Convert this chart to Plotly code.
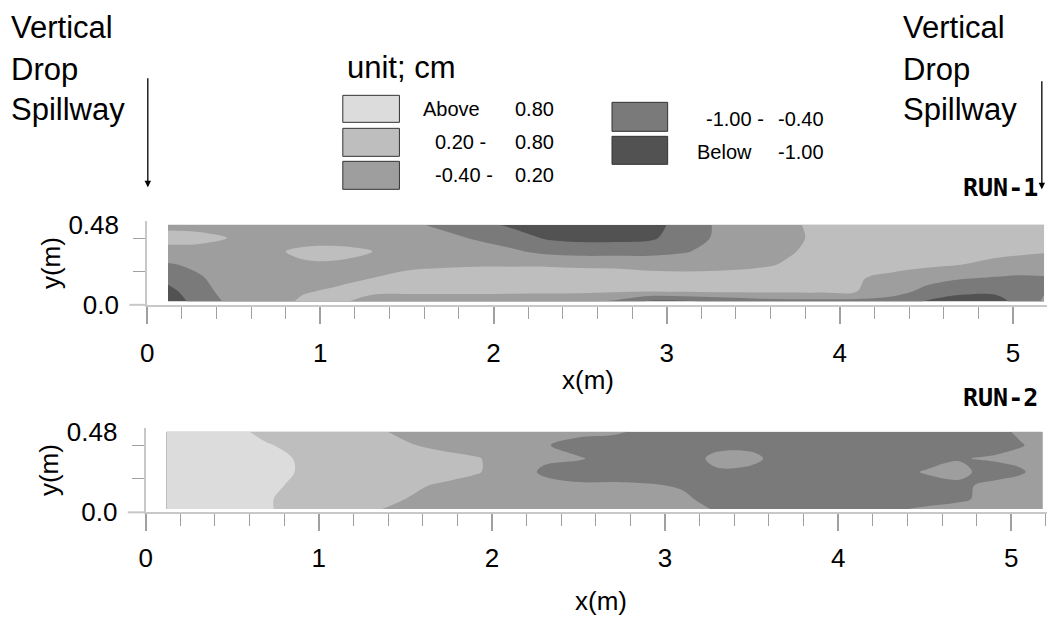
import plotly.graph_objects as go

W, H = 1055, 619
OFF = 8          # page body margin in the browser
SY, AY = 0.958, 12.0   # observed vertical mapping of the photographed page


# ---------------- data (cm) ----------------
x_run1 = [0.12, 0.3, 0.5, 0.7, 0.9, 1.1, 1.3, 1.5, 1.7, 1.9, 2.1, 2.3, 2.5, 2.7,
          2.9, 3.1, 3.3, 3.5, 3.7, 3.9, 4.1, 4.3, 4.5, 4.7, 4.9, 5.05, 5.18]
y_run1 = [0.02, 0.08, 0.16, 0.24, 0.32, 0.40, 0.48]
z_run1 = [
    [-1.3, -0.8, -0.2, -0.1, 0.3, 0.3, 0.0, -0.1, -0.1, -0.1, -0.15, -0.2, -0.3, -0.5,
     -1.1, -1.1, -0.9, -0.7, -0.6, -0.6, -0.6, -0.7, -1.05, -1.1, -1.1, -0.9, -0.3],
    [-1.2, -0.6, -0.15, -0.05, 0.15, 0.3, 0.3, 0.3, 0.3, 0.3, 0.3, 0.3, 0.3, 0.25,
     0.2, 0.25, 0.3, 0.3, 0.3, 0.3, 0.2, -0.1, -0.6, -0.95, -0.95, -0.8, -0.45],
    [-0.8, -0.45, -0.15, -0.1, -0.05, 0.05, 0.2, 0.4, 0.5, 0.5, 0.5, 0.5, 0.5, 0.45,
     0.45, 0.45, 0.45, 0.45, 0.45, 0.4, 0.25, 0.05, -0.15, -0.35, -0.45, -0.5, -0.45],
    [-0.45, -0.3, -0.1, -0.05, 0.1, 0.1, 0.0, 0.05, 0.1, 0.15, 0.15, 0.15, 0.1, 0.1,
     0.0, -0.05, 0.0, 0.1, 0.25, 0.4, 0.45, 0.4, 0.3, 0.2, 0.05, -0.05, -0.1],
    [-0.05, -0.05, -0.1, 0.05, 0.35, 0.4, 0.2, -0.05, -0.1, -0.15, -0.3, -0.55, -0.65, -0.65,
     -0.6, -0.45, -0.2, -0.05, 0.15, 0.35, 0.45, 0.5, 0.5, 0.45, 0.35, 0.3, 0.25],
    [0.45, 0.4, 0.15, -0.05, -0.1, -0.1, -0.1, -0.15, -0.25, -0.45, -0.7, -1.05, -1.15, -1.15,
     -1.1, -0.7, -0.3, -0.1, 0.1, 0.3, 0.45, 0.5, 0.5, 0.5, 0.5, 0.5, 0.5],
    [0.0, -0.05, -0.1, -0.1, -0.1, -0.15, -0.2, -0.3, -0.5, -0.8, -1.1, -1.25, -1.3, -1.3,
     -1.2, -0.8, -0.3, -0.1, 0.1, 0.35, 0.5, 0.5, 0.55, 0.55, 0.55, 0.5, 0.5],
]

x_run2 = [0.12, 0.3, 0.5, 0.7, 0.9, 1.1, 1.3, 1.5, 1.7, 1.9, 2.1, 2.3, 2.5, 2.7,
          2.9, 3.1, 3.3, 3.5, 3.7, 3.9, 4.1, 4.3, 4.5, 4.7, 4.9, 5.05, 5.18]
y_run2 = [0.02, 0.08, 0.16, 0.24, 0.32, 0.40, 0.48]
z_run2 = [
    [1.1, 1.1, 1.0, 0.85, 0.6, 0.4, 0.25, 0.1, -0.1, -0.1, -0.1, -0.1, -0.1, -0.15,
     -0.2, -0.2, -0.45, -0.65, -0.7, -0.65, -0.6, -0.5, -0.3, -0.2, -0.1, -0.1, -0.1],
    [1.1, 1.1, 1.0, 0.85, 0.6, 0.45, 0.3, 0.2, 0.0, -0.1, -0.1, -0.1, -0.1, -0.15,
     -0.2, -0.3, -0.6, -0.7, -0.7, -0.7, -0.7, -0.7, -0.7, -0.5, -0.2, -0.1, -0.1],
    [1.1, 1.1, 1.05, 0.9, 0.7, 0.5, 0.4, 0.3, 0.15, 0.0, -0.1, -0.2, -0.3, -0.3,
     -0.35, -0.45, -0.7, -0.7, -0.7, -0.7, -0.7, -0.7, -0.7, -0.55, -0.2, -0.1, -0.1],
    [1.1, 1.1, 1.1, 1.0, 0.75, 0.6, 0.55, 0.5, 0.4, 0.25, 0.0, -0.5, -0.7, -0.7,
     -0.7, -0.7, -0.45, -0.5, -0.7, -0.7, -0.7, -0.7, -0.35, -0.2, -0.75, -0.5, -0.1],
    [1.1, 1.1, 1.1, 0.95, 0.75, 0.6, 0.5, 0.45, 0.35, 0.25, 0.0, -0.3, -0.35, -0.6,
     -0.7, -0.6, -0.3, -0.3, -0.6, -0.7, -0.7, -0.7, -0.7, -0.45, -0.3, -0.2, -0.1],
    [1.1, 1.1, 1.05, 0.85, 0.6, 0.5, 0.4, 0.25, 0.1, -0.05, -0.2, -0.35, -0.6, -0.7,
     -0.7, -0.7, -0.5, -0.5, -0.7, -0.7, -0.7, -0.45, -0.45, -0.7, -0.7, -0.45, -0.2],
    [1.1, 1.1, 1.0, 0.6, 0.5, 0.45, 0.3, 0.1, -0.1, -0.1, -0.15, -0.2, -0.25, -0.3,
     -0.55, -0.7, -0.7, -0.7, -0.7, -0.7, -0.7, -0.7, -0.6, -0.7, -0.6, -0.3, -0.2],
]

class_labels_left = [("Above", "0.80"), ("0.20 -", "0.80"), ("-0.40 -", "0.20")]
class_labels_right = [("-1.00 -", "-0.40"), ("Below", "-1.00")]
x_ticks = [0, 1, 2, 3, 4, 5]
y_tick_vals = [0, 0.48]
y_tick_text = ["0.0", "0.48"]

# ---------------- styles ----------------
C1, C2, C3, C4, C5 = "#dcdcdc", "#bebebe", "#9e9e9e", "#7a7a7a", "#525252"
SCALE = [[0, C5], [0.25, C4], [0.5, C3], [0.75, C2], [1.0, C1]]
FONT = "Liberation Sans, Arial, sans-serif"
AXCOL = "#c8c8c8"
TICKCOL = "#a0a0a0"


def px(p):
    return (p - OFF) / W


def page_y(r):
    """target position in the photo -> position in the page"""
    return (r - AY) / SY


def py(r):
    return 1 - (page_y(r) - OFF) / H


XPX = 174.3  # pixels per metre
panels = [
    dict(x0=141.1, y0=305.5, ytop=222.0),
    dict(x0=139.5, y0=513.0, ytop=429.0),
]

fig = go.Figure()
for i, (xs, ys, zs) in enumerate([(x_run1, y_run1, z_run1), (x_run2, y_run2, z_run2)]):
    sfx = "" if i == 0 else "2"
    fig.add_trace(go.Contour(
        x=xs, y=ys, z=zs, autocontour=False,
        contours=dict(start=-1.0, end=0.8, size=0.6, coloring="fill", showlines=False),
        colorscale=SCALE, showscale=False, line=dict(width=0, smoothing=1.0),
        xaxis="x" + sfx, yaxis="y" + sfx, hoverinfo="skip",
    ))

layout = dict(
    width=W, height=H, margin=dict(l=0, r=0, t=0, b=0),
    paper_bgcolor="white", plot_bgcolor="white", showlegend=False,
    font=dict(family=FONT, color="black"),
)
shapes = []
annotations = []


def text_at(txt, x, y, size, xanchor="left", yanchor="middle", family=FONT, angle=0):
    annotations.append(dict(text=txt, xref="paper", yref="paper", x=px(x), y=py(y),
                            xanchor=xanchor, yanchor=yanchor, showarrow=False,
                            align=xanchor if xanchor != "center" else "center",
                            textangle=angle, borderpad=0,
                            font=dict(size=size, family=family, color="black")))


for i, p in enumerate(panels):
    sfx = "" if i == 0 else "2"
    xr = 5.22
    layout["xaxis" + sfx] = dict(
        domain=[px(p["x0"]), px(p["x0"] + xr * XPX)], range=[0, xr],
        anchor="y" + sfx, showline=True, linecolor=AXCOL, linewidth=2,
        showgrid=False, zeroline=False, tickmode="array", tickvals=x_ticks,
        ticktext=[str(t) for t in x_ticks],
        ticks="outside", ticklen=17, tickwidth=1.5, tickcolor=TICKCOL,
        tickfont=dict(size=26, family=FONT, color="black"),
        ticklabelstandoff=7 if i == 0 else 4,
        minor=dict(tickmode="linear", tick0=0, dtick=0.2, ticks="outside",
                   ticklen=12, tickwidth=1.2, tickcolor=TICKCOL),
        fixedrange=True,
    )
    layout["yaxis" + sfx] = dict(
        domain=[py(p["y0"]), py(p["ytop"])], range=[0, 0.5],
        anchor="x" + sfx, showline=True, linecolor=AXCOL, linewidth=2,
        showgrid=False, zeroline=False, tickmode="array", tickvals=y_tick_vals,
        ticktext=y_tick_text, ticks="outside", ticklen=12,
        tickcolor="rgba(0,0,0,0)", ticklabelstandoff=9,
        tickfont=dict(size=26, family=FONT, color="black"),
        minor=dict(tickmode="array", tickvals=[0.2, 0.4], ticks="outside",
                   ticklen=12, tickwidth=1.2, tickcolor=TICKCOL),
        fixedrange=True,
    )
    # extension of x axis line left of the y axis (tick at y = 0)
    shapes.append(dict(type="line", xref="paper", yref="paper",
                       x0=px(p["x0"] - 18), x1=px(p["x0"]), y0=py(p["y0"]), y1=py(p["y0"]),
                       line=dict(color=AXCOL, width=2)))

# axis titles
for (cx, cy) in [(585, 381), (598, 602)]:
    text_at("x(m)", cx, cy, 26, xanchor="center")
for (cx, cy) in [(45, 264), (43, 471)]:
    text_at("y(m)", cx, cy, 26, xanchor="center", angle=-90)

# RUN labels
for txt, cy in [("RUN-1", 188), ("RUN-2", 398)]:
    text_at("<b>%s</b>" % txt, 1039, cy, 25, xanchor="right",
            family="DejaVu Sans Mono, monospace")

# Vertical Drop Spillway labels
for left in (3, 901):
    for word, cy in [("Vertical", 28), ("Drop", 70), ("Spillway", 110)]:
        text_at(word, left, cy, 31)

# arrows
for ax_x, y_top, y_tip in [(141.7, 82, 188), (1041.7, 85, 190)]:
    annotations.append(dict(text="", xref="paper", yref="paper", x=px(ax_x), y=py(y_tip),
                            ax=0, ay=-(page_y(y_tip) - page_y(y_top)), showarrow=True,
                            arrowhead=2, arrowsize=1.0, arrowwidth=1.3, arrowcolor="black"))

# legend
text_at("unit; cm", 341, 68, 31)
left_boxes = [(96, 123, C1), (129, 157, C2), (162, 190, C3)]
for (t, b, col), (lab, num) in zip(left_boxes, class_labels_left):
    shapes.append(dict(type="rect", xref="paper", yref="paper", x0=px(338), x1=px(395),
                       y0=py(b), y1=py(t), fillcolor=col, line=dict(color="#333333", width=1)))
    cy = (t + b) / 2
    text_at(lab, 418 if lab == "Above" else 430, cy, 20)
    text_at(num, 552, cy, 20, xanchor="right")
right_boxes = [(103, 132, C4), (137, 165, C5)]
for (t, b, col), (lab, num) in zip(right_boxes, class_labels_right):
    shapes.append(dict(type="rect", xref="paper", yref="paper", x0=px(609), x1=px(665),
                       y0=py(b), y1=py(t), fillcolor=col, line=dict(color="#333333", width=1)))
    cy = (t + b) / 2 + 2
    text_at(lab, 694 if lab == "Below" else 703, cy, 20)
    text_at(num, 823, cy, 20, xanchor="right")

layout["shapes"] = shapes
layout["annotations"] = annotations
fig.update_layout(**layout)
fig.write_html("out.html")
